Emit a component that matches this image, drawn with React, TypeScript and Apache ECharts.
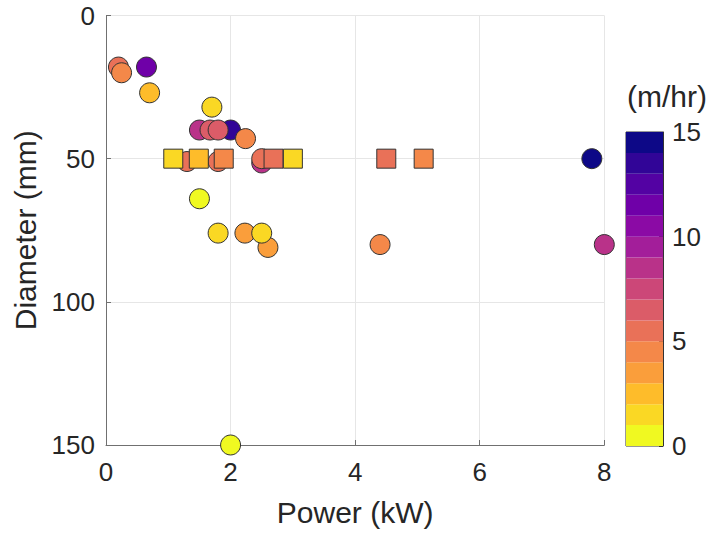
import React, { useEffect, useRef } from "react";
import * as echarts from "echarts";

// Circles: power (kW), diameter (mm), rate (m/hr)
const circlePower = [0.2, 0.25, 0.65, 0.7, 1.7, 1.5, 2.0, 1.67, 1.8, 2.24, 1.3, 1.8, 2.5, 2.5, 1.5, 1.8, 2.23, 2.6, 2.5, 4.4, 7.8, 8.0, 2.0];
const circleDiameter = [18, 20, 18, 27, 32, 40, 40, 40, 40, 43, 51, 51, 51.5, 50, 64, 76, 76, 81, 76, 80, 50, 80, 150];
const circleRate = [5.5, 4.5, 11.5, 2.5, 1.5, 8.5, 13.5, 6.5, 6.5, 4.5, 5.5, 5.5, 8.5, 5.5, 0.5, 1.5, 3.5, 3.5, 1.5, 4.5, 14.5, 8.5, 0.5];

// Squares
const squarePower = [1.08, 1.49, 1.89, 2.69, 3.0, 4.5, 5.1];
const squareDiameter = [50, 50, 50, 50, 50, 50, 50];
const squareRate = [1.5, 2.5, 4.5, 5.5, 1.5, 5.5, 4.5];

// Colormap (flipped plasma, 15 levels from 0 to 15)
const levelColors = [
  "#f0f921", "#fad824", "#febc2a", "#fa9e3b", "#f48849",
  "#e97158", "#db5c68", "#cc4778", "#b93289", "#a31e9a",
  "#8b0aa5", "#6f00a8", "#5302a3", "#310597", "#0d0887",
];

const xTicks = { min: 0, max: 8, interval: 2 };
const yTicks = { min: 0, max: 150, interval: 50 };
const cbTicks = { min: 0, max: 15, interval: 5 };

const FONT = "'Liberation Sans', Arial, Helvetica, sans-serif";
const TXT = "#262626";

export default function App() {
  const ref = useRef<HTMLDivElement>(null);
  useEffect(() => {
    if (!ref.current) return;
    const chart = echarts.init(ref.current, null, { renderer: "svg" });

    const circles = circlePower.map((p, i) => [p, circleDiameter[i], circleRate[i]]);
    const squares = squarePower.map((p, i) => [p, squareDiameter[i], squareRate[i]]);

    const pieces = levelColors.map((c, k) => ({ gte: k, lt: k + 1, color: c }));

    const cbSeries = levelColors.map((c, k) => ({
      type: "bar",
      xAxisIndex: 1,
      yAxisIndex: 1,
      stack: "cb",
      data: [1],
      barWidth: "100%",
      itemStyle: { color: c },
      silent: true,
    }));

    chart.setOption({
      animation: false,
      textStyle: { fontFamily: FONT },
      grid: [
        { left: 106, top: 15.5, right: 110.7, bottom: 93, containLabel: false },
        { left: 626, top: 132, width: 37, bottom: 92, show: true, borderColor: "#333", borderWidth: 1, backgroundColor: "transparent" },
      ],
      xAxis: [
        {
          type: "value",
          gridIndex: 0,
          min: xTicks.min,
          max: xTicks.max,
          interval: xTicks.interval,
          name: "Power (kW)",
          nameLocation: "middle",
          nameGap: 52,
          nameTextStyle: { fontSize: 30, color: TXT, fontFamily: FONT },
          axisLine: { show: true, onZero: false, lineStyle: { color: "#707070", width: 1 } },
          axisTick: { show: true, inside: true, length: 5, lineStyle: { color: "#707070" } },
          axisLabel: { fontSize: 26, color: TXT, margin: 14, fontFamily: FONT },
          splitLine: { show: true, lineStyle: { color: "#e6e6e6", width: 1 } },
        },
        {
          type: "category",
          gridIndex: 1,
          data: ["cb"],
          show: false,
          boundaryGap: true,
        },
      ],
      yAxis: [
        {
          type: "value",
          gridIndex: 0,
          inverse: true,
          min: yTicks.min,
          max: yTicks.max,
          interval: yTicks.interval,
          name: "Diameter (mm)",
          nameLocation: "middle",
          nameGap: 66,
          nameTextStyle: { fontSize: 30, color: TXT, fontFamily: FONT },
          axisLine: { show: true, onZero: false, lineStyle: { color: "#707070", width: 1 } },
          axisTick: { show: true, inside: true, length: 5, lineStyle: { color: "#707070" } },
          axisLabel: { fontSize: 26, color: TXT, margin: 11, fontFamily: FONT },
          splitLine: { show: true, lineStyle: { color: "#e6e6e6", width: 1 } },
        },
        {
          type: "value",
          gridIndex: 1,
          position: "right",
          min: cbTicks.min,
          max: cbTicks.max,
          interval: cbTicks.interval,
          axisLine: { show: true, lineStyle: { color: "#333", width: 1 } },
          axisTick: { show: true, inside: true, length: 4, lineStyle: { color: "#333" } },
          axisLabel: { fontSize: 26, color: TXT, margin: 9, fontFamily: FONT },
          splitLine: { show: false },
        },
      ],
      visualMap: {
        type: "piecewise",
        show: false,
        dimension: 2,
        seriesIndex: [0, 1],
        pieces,
      },
      graphic: [
        {
          type: "text",
          x: 667,
          y: 96,
          style: {
            text: "(m/hr)",
            fontSize: 30,
            fontFamily: FONT,
            fill: TXT,
            align: "center",
            verticalAlign: "middle",
          },
        },
      ],
      series: [
        {
          type: "scatter",
          xAxisIndex: 0,
          yAxisIndex: 0,
          symbol: "circle",
          symbolSize: 20,
          data: circles,
          itemStyle: { borderColor: "#333", borderWidth: 1, opacity: 1 },
          z: 3,
        },
        {
          type: "scatter",
          xAxisIndex: 0,
          yAxisIndex: 0,
          symbol: "rect",
          symbolSize: 19,
          data: squares,
          itemStyle: { borderColor: "#333", borderWidth: 1, opacity: 1 },
          z: 4,
        },
        ...cbSeries,
      ],
    });
    return () => chart.dispose();
  }, []);
  return (
    <div
      ref={ref}
      style={{ position: "fixed", left: 0, top: 0, width: 715, height: 538, background: "#fff" }}
    />
  );
}
